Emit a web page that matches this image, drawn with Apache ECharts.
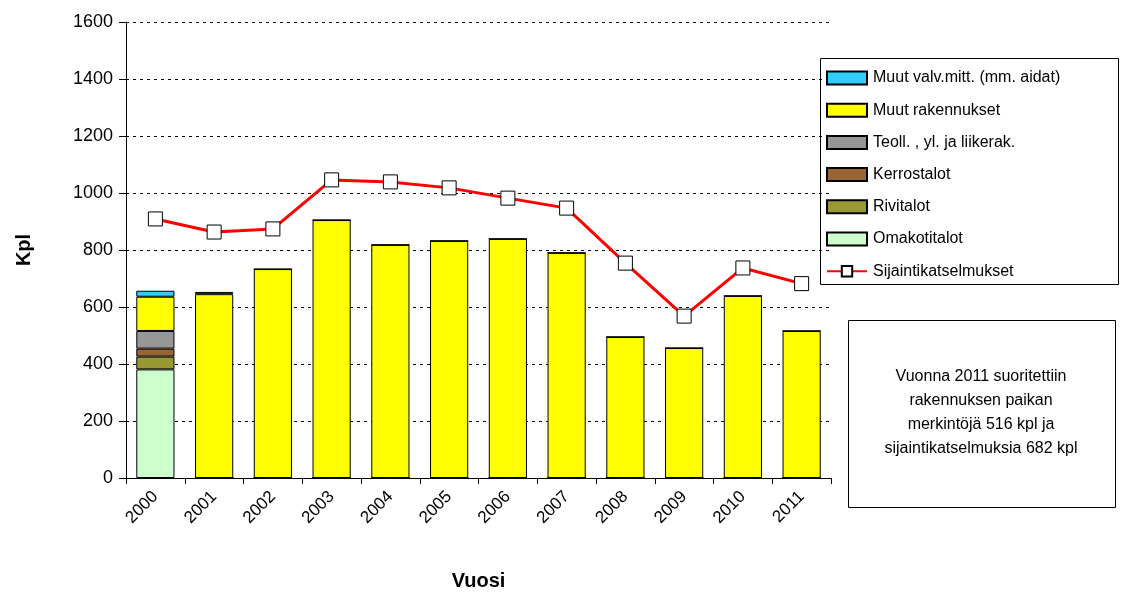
<!DOCTYPE html>
<html><head><meta charset="utf-8">
<script src="https://cdn.jsdelivr.net/npm/echarts@6/dist/echarts.min.js"></script>
<style>html,body{margin:0;padding:0;background:#fff}#c{width:1121px;height:595px}</style>
</head><body><div id="c"></div>
<script>
var years = ['2000','2001','2002','2003','2004','2005','2006','2007','2008','2009','2010','2011'];
var omakotitalot = [381,0,0,0,0,0,0,0,0,0,0,0];
var rivitalot = [45,0,0,0,0,0,0,0,0,0,0,0];
var kerrostalot = [28,0,0,0,0,0,0,0,0,0,0,0];
var teoll = [62,0,0,0,0,0,0,0,0,0,0,0];
var muutRak = [120,645,733,905,818,832,839,790,495,456,639,516];
var muutValv = [21,8,0,0,0,0,0,0,0,0,0,0];
var sijainti = [909,863,874,1046,1039,1018,982,947,754,568,737,682];
var yTicks = [0,200,400,600,800,1000,1200,1400,1600];
var noteLines = ['Vuonna 2011 suoritettiin','rakennuksen paikan','merkintöjä 516 kpl ja','sijaintikatselmuksia 682 kpl'];

var FONT = 'Liberation Sans';
var chart = echarts.init(document.getElementById('c'));
function barSeries(name, data, color){
  return {name:name, type:'bar', stack:'a', data:data, barCategoryGap:'35%',
    itemStyle:{color:color, borderColor:'#000', borderWidth:1}, emphasis:{disabled:true}};
}
chart.setOption({
  animation:false,
  textStyle:{fontFamily:FONT},
  grid:{left:126, right:290, top:22, bottom:117, outerBoundsMode:'none', containLabel:false},
  legend:{orient:'vertical', left:822, top:66, padding:[4,4,4,4],
    borderWidth:0, itemWidth:40, itemHeight:13, itemGap:16.2,
    textStyle:{fontFamily:FONT, fontSize:16, color:'#000', padding:[0,0,0,1]},
    data:[
      {name:'Muut valv.mitt. (mm. aidat)', icon:'rect'},
      {name:'Muut rakennukset', icon:'rect'},
      {name:'Teoll. , yl. ja liikerak.', icon:'rect'},
      {name:'Kerrostalot', icon:'rect'},
      {name:'Rivitalot', icon:'rect'},
      {name:'Omakotitalot', icon:'rect'},
      'Sijaintikatselmukset']},
  xAxis:{type:'category', data:years, name:'Vuosi', nameLocation:'middle', nameGap:93,
    nameTextStyle:{fontFamily:FONT, fontSize:20, fontWeight:'bold', color:'#000'},
    axisLine:{lineStyle:{color:'#000', width:1}},
    axisTick:{show:true, length:6, lineStyle:{color:'#000'}},
    axisLabel:{rotate:45, fontSize:17, color:'#000', margin:16}},
  yAxis:{type:'value', min:yTicks[0], max:yTicks[yTicks.length-1], interval:200,
    name:'Kpl', nameLocation:'middle', nameGap:92,
    nameTextStyle:{fontFamily:FONT, fontSize:20, fontWeight:'bold', color:'#000'},
    axisLine:{show:true, lineStyle:{color:'#000'}},
    axisTick:{show:true, length:7, lineStyle:{color:'#000'}},
    axisLabel:{fontSize:18, color:'#000', margin:13, formatter:function(v){return String(v);}},
    splitLine:{show:true, lineStyle:{color:'#000', type:[3,4], width:1}}},
  series:[
    barSeries('Omakotitalot', omakotitalot, '#CCFFCC'),
    barSeries('Rivitalot', rivitalot, '#999933'),
    barSeries('Kerrostalot', kerrostalot, '#996633'),
    barSeries('Teoll. , yl. ja liikerak.', teoll, '#969696'),
    barSeries('Muut rakennukset', muutRak, '#FFFF00'),
    barSeries('Muut valv.mitt. (mm. aidat)', muutValv, '#33CCFF'),
    {name:'Sijaintikatselmukset', type:'line', data:sijainti, symbol:'rect', symbolSize:14,
      lineStyle:{color:'#FF0000', width:3}, itemStyle:{color:'#fff', borderColor:'#000', borderWidth:1},
      emphasis:{disabled:true}, z:5}
  ],
  graphic:[
    {type:'rect', left:820, top:58, z:-1, shape:{width:298, height:226},
      style:{fill:'#fff', stroke:'#000', lineWidth:1}},
    {type:'rect', left:848, top:320, shape:{width:267, height:187},
      style:{fill:'#fff', stroke:'#000', lineWidth:1}},
    {type:'text', x:981, y:413, style:{text:noteLines.join('\n'), fill:'#000', font:'16px "Liberation Sans"',
      align:'center', verticalAlign:'middle', lineHeight:24}}
  ]
});
</script></body></html>
